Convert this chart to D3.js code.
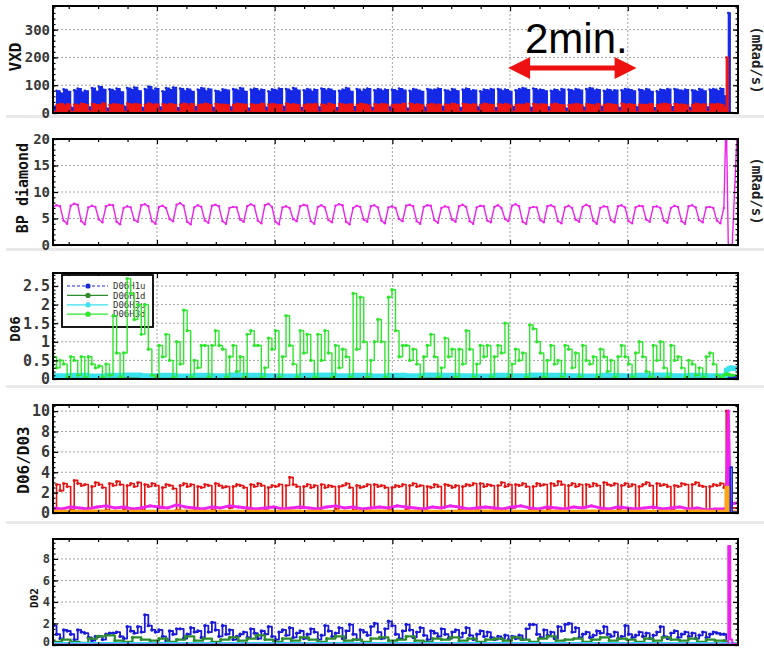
<!DOCTYPE html>
<html>
<head>
<meta charset="utf-8">
<script src="https://cdn.jsdelivr.net/npm/d3@7"></script>
<style>
  html, body { margin: 0; padding: 0; background: #fff; }
  svg { display: block; }
</style>
</head>
<body>
<svg id="chart" width="764" height="650"></svg>
<script>
// five stacked monitor panels, time runs left to right, spike at the very end

// time axis (seconds) - main run ends at T_END, then a short tail with the spike
const T_END = 684, T_MAX = 698.4;
const tailT = [684, 686.4, 688.5, 690.5, 692.5, 698.4];
const xMajor = [106, 226, 346, 466, 586];
const xMinor = [16, 46, 76, 136, 166, 196, 256, 286, 316, 376, 406, 436, 496, 526, 556, 616, 646, 676];
const arrowT = [464, 595];

// ---- VXD (mRad/s)
const vxdBlue = [
  25, 80, 72, 85, 78, 20, 82, 88, 75, 80,
  22, 90, 78, 95, 85, 18, 85, 80, 88, 76,
  24, 90, 84, 92, 80, 20, 86, 95, 82, 88,
  22, 78, 90, 84, 92, 19, 88, 80, 86, 78,
  23, 84, 90, 80, 86, 20, 80, 76, 85, 82,
  22, 86, 82, 90, 78, 18, 84, 88, 80, 84,
  21, 78, 85, 82, 88, 24, 86, 80, 90, 82,
  20, 82, 86, 78, 84, 22, 88, 82, 86, 80,
  19, 80, 84, 90, 78, 23, 86, 78, 84, 88,
  20, 82, 86, 80, 84, 22, 84, 80, 88, 82,
  18, 80, 86, 82, 78, 21, 86, 82, 84, 88,
  24, 82, 78, 86, 80, 20, 84, 88, 80, 82,
  22, 78, 84, 82, 86, 19, 86, 80, 84, 78,
  23, 82, 86, 90, 84, 20, 88, 82, 84, 80,
  22, 80, 84, 78, 86, 18, 84, 80, 86, 82,
  21, 86, 90, 82, 84, 24, 80, 84, 78, 82,
  20, 82, 86, 84, 80, 22, 84, 80, 86, 78,
  19, 78, 84, 82, 86, 23, 86, 82, 80, 84,
  20, 82, 78, 86, 80, 22, 84, 86, 80, 88
];
const vxdBlueTail = [60, 60, 360, 0, 0, 0];
const vxdRed = [
  6, 30, 33, 28, 32, 5, 31, 28, 34, 30,
  7, 33, 30, 29, 35, 4, 29, 32, 31, 28,
  6, 34, 30, 33, 31, 5, 30, 35, 29, 32,
  7, 32, 29, 33, 30, 5, 31, 34, 28, 33,
  6, 29, 31, 34, 30, 4, 33, 30, 31, 29,
  6, 30, 34, 32, 31, 5, 32, 29, 30, 34,
  7, 31, 33, 29, 30, 5, 34, 30, 32, 29,
  6, 29, 32, 31, 33, 4, 31, 28, 34, 30,
  6, 33, 31, 29, 32, 5, 30, 34, 31, 28,
  7, 32, 29, 33, 31, 5, 29, 31, 30, 34,
  6, 34, 30, 32, 29, 4, 30, 33, 28, 31,
  6, 31, 29, 34, 30, 5, 33, 31, 30, 32,
  7, 29, 34, 31, 30, 5, 32, 30, 33, 28,
  6, 30, 31, 29, 34, 4, 33, 28, 32, 31,
  6, 31, 34, 30, 29, 5, 29, 31, 33, 30,
  7, 32, 30, 28, 33, 5, 30, 33, 31, 29,
  6, 34, 29, 32, 30, 4, 31, 30, 29, 33,
  6, 29, 32, 34, 31, 5, 33, 30, 31, 28,
  7, 30, 34, 29, 32, 5, 32, 31, 33, 30
];
const vxdRedTail = [20, 200, 0, 0, 0, 0];

// ---- BP diamond (mRad/s)
const bpDiamond = [
  7.2, 7.5, 7.3, 4.6, 4.0, 7.4, 7.8, 7.6, 4.5, 3.9,
  7.1, 7.4, 7.2, 4.8, 4.3, 7.3, 7.6, 7.5, 4.4, 3.9,
  7.0, 7.3, 7.1, 4.7, 4.4, 7.5, 7.7, 7.3, 4.5, 4.0,
  7.2, 7.4, 7.0, 4.9, 4.5, 7.6, 7.9, 7.4, 4.4, 3.9,
  7.1, 7.5, 7.2, 4.6, 4.2, 7.4, 7.6, 7.3, 4.5, 4.0,
  7.0, 7.2, 7.1, 4.8, 4.4, 7.3, 7.7, 7.4, 4.6, 4.1,
  7.5, 7.8, 7.2, 4.4, 3.9, 7.1, 7.3, 7.0, 4.9, 4.5,
  7.3, 7.6, 7.4, 4.5, 4.0, 7.2, 7.5, 7.1, 4.7, 4.3,
  7.4, 7.7, 7.5, 4.4, 3.9, 7.0, 7.4, 7.2, 4.8, 4.4,
  7.3, 7.5, 7.1, 4.6, 4.1, 7.1, 7.3, 7.0, 4.9, 4.5,
  7.4, 7.6, 7.3, 4.5, 4.0, 7.2, 7.5, 7.4, 4.7, 4.2,
  7.0, 7.3, 7.1, 4.8, 4.4, 7.3, 7.6, 7.2, 4.5, 4.0,
  7.1, 7.4, 7.3, 4.6, 4.3, 7.2, 7.5, 7.0, 4.9, 4.5,
  7.4, 7.7, 7.3, 4.4, 4.0, 7.0, 7.2, 7.1, 4.7, 4.3,
  7.3, 7.5, 7.2, 4.5, 4.1, 7.1, 7.4, 7.0, 4.8, 4.4,
  7.2, 7.6, 7.3, 4.6, 4.0, 7.0, 7.3, 7.2, 4.7, 4.3,
  7.3, 7.5, 7.1, 4.5, 4.1, 7.1, 7.4, 7.3, 4.8, 4.4,
  7.2, 7.3, 7.0, 4.6, 4.2, 7.0, 7.4, 7.2, 4.5, 4.0,
  7.3, 7.5, 7.1, 4.7, 4.3, 7.1, 7.2, 7.0, 4.6, 4.1
];
const bpDiamondTail = [7.0, 25, 0, 0, 0, 25];

// ---- D06
const d06H3d = [
  0.6, 0.3, 0.5, 0.4, 0.05, 0.6, 0.5, 0.1, 0.6, 0.05,
  0.6, 0.4, 0.3, 0.35, 0.05, 0.4, 0.1, 1.7, 0.7, 0.05,
  0.7, 2.7, 2.3, 1.6, 2.0, 1.2, 2.0, 0.8, 0.1, 0.05,
  0.9, 0.6, 1.2, 0.5, 0.05, 1.0, 0.4, 1.85, 1.3, 0.05,
  0.5, 0.3, 0.9, 0.9, 0.05, 0.9, 1.3, 0.9, 0.8, 0.05,
  0.6, 0.9, 0.2, 0.6, 0.05, 1.2, 1.3, 0.9, 0.9, 0.05,
  0.3, 1.1, 0.8, 1.3, 0.05, 0.6, 1.7, 0.9, 0.4, 0.05,
  1.3, 0.7, 1.2, 0.5, 0.05, 1.2, 0.5, 1.3, 0.7, 0.05,
  0.9, 0.3, 0.8, 0.6, 0.05, 2.3, 0.8, 2.2, 1.0, 0.05,
  0.5, 1.0, 1.6, 1.0, 0.05, 2.2, 2.4, 1.3, 0.6, 0.9,
  0.9, 0.5, 0.8, 0.4, 0.05, 0.6, 0.9, 1.2, 0.6, 0.05,
  0.3, 1.1, 0.6, 0.8, 0.05, 0.8, 0.4, 1.3, 0.8, 0.05,
  0.4, 0.9, 0.6, 0.9, 0.05, 0.6, 0.9, 0.7, 1.5, 0.05,
  0.4, 0.8, 0.5, 0.7, 0.05, 1.45, 1.35, 1.0, 0.7, 0.05,
  0.5, 0.9, 0.4, 0.5, 0.05, 0.9, 0.8, 0.3, 0.7, 0.05,
  0.9, 0.5, 0.4, 0.6, 0.05, 0.8, 0.6, 0.2, 0.5, 0.05,
  0.6, 0.9, 0.6, 0.4, 0.05, 0.7, 1.0, 0.6, 0.2, 0.05,
  0.9, 0.5, 1.0, 0.3, 0.05, 0.9, 0.5, 0.6, 0.3, 0.05,
  0.5, 0.4, 0.1, 0.3, 0.05, 0.6, 0.7, 0.4, 0.1, 0.05
];
const d06H3dTail = [0.1, 0.15, 0.12, 0.1, 0.1, 0.1];
const d06H3u = [
  0.09, 0.10, 0.08, 0.10, 0.11, 0.09, 0.10, 0.08, 0.10, 0.09,
  0.11, 0.10, 0.09, 0.08, 0.10, 0.11, 0.09, 0.10, 0.08, 0.10,
  0.09, 0.11, 0.10, 0.09, 0.08, 0.10, 0.09, 0.11, 0.10, 0.09,
  0.08, 0.10, 0.09, 0.10, 0.11, 0.09, 0.10, 0.09
];
const d06H3uTail = [0.1, 0.25, 0.28, 0.3, 0.28, 0.28];
const d06H1u = [
  0.01, 0.01, 0.02, 0.01, 0.01, 0.02, 0.01, 0.01, 0.01, 0.02,
  0.01, 0.01, 0.02, 0.01, 0.01, 0.01, 0.02, 0.01, 0.01, 0.02,
  0.01, 0.01, 0.01, 0.02, 0.01, 0.01, 0.02, 0.01, 0.01, 0.01,
  0.02, 0.01, 0.01, 0.02, 0.01, 0.01, 0.01, 0.02
];
const d06H1uTail = [0.02, 0.05, 0.05, 0.05, 0.05, 0.05];
const d06H1d = [
  0.03, 0.02, 0.03, 0.04, 0.03, 0.02, 0.03, 0.03, 0.04, 0.03,
  0.02, 0.03, 0.03, 0.02, 0.04, 0.03, 0.03, 0.02, 0.03, 0.04,
  0.03, 0.02, 0.03, 0.03, 0.04, 0.03, 0.02, 0.03, 0.03, 0.04,
  0.03, 0.02, 0.03, 0.03, 0.02, 0.04, 0.03, 0.03
];
const d06H1dTail = [0.03, 0.1, 0.12, 0.1, 0.1, 0.1];

// ---- D06/D03
const ratioRed = [
  0.4, 2.8, 2.2, 2.9, 2.6, 0.3, 3.2, 2.9, 2.7, 2.8,
  0.5, 2.6, 3.0, 2.8, 2.5, 0.3, 2.9, 2.7, 3.1, 2.8,
  0.4, 2.7, 2.9, 2.6, 3.0, 0.3, 2.8, 2.6, 2.9, 2.7,
  0.5, 2.5, 2.8, 2.7, 2.4, 0.3, 2.7, 2.9, 2.6, 2.8,
  0.4, 2.6, 2.5, 2.8, 2.7, 0.3, 2.9, 2.7, 2.5, 2.6,
  0.5, 2.6, 2.8, 2.7, 2.5, 0.3, 2.8, 2.6, 2.9, 2.7,
  0.4, 2.5, 2.7, 2.6, 2.8, 0.3, 2.7, 3.5, 2.8, 2.6,
  0.5, 2.6, 2.8, 2.5, 2.7, 0.3, 2.8, 2.5, 2.7, 2.6,
  0.4, 2.6, 2.7, 2.9, 2.5, 0.3, 2.7, 2.5, 2.6, 2.8,
  0.5, 2.8, 2.6, 2.7, 2.5, 0.3, 2.5, 2.7, 2.6, 2.8,
  0.4, 2.7, 2.9, 2.6, 2.7, 0.3, 2.6, 2.5, 2.8, 2.6,
  0.5, 2.8, 2.7, 2.5, 2.7, 0.3, 2.6, 2.8, 2.7, 2.9,
  0.4, 2.9, 2.6, 2.8, 2.7, 0.3, 2.7, 3.0, 2.6, 2.8,
  0.5, 2.8, 2.7, 2.9, 2.6, 0.3, 2.6, 2.9, 2.7, 2.8,
  0.4, 2.9, 2.7, 3.1, 2.8, 0.3, 2.7, 2.9, 2.6, 2.8,
  0.5, 2.8, 2.6, 2.9, 2.7, 0.3, 3.0, 2.8, 2.7, 2.9,
  0.4, 2.7, 2.9, 2.6, 2.8, 0.3, 2.6, 2.8, 3.0, 2.7,
  0.5, 2.9, 2.7, 2.8, 2.6, 0.3, 2.7, 2.6, 2.9, 2.8,
  0.4, 2.8, 3.0, 2.7, 2.6, 0.3, 2.6, 2.8, 2.7, 2.9
];
const ratioRedTail = [2.5, 10, 0.3, 0.6, 0.5, 0.5];
const ratioMag = [
  0.5, 0.4, 0.6, 0.5, 0.4, 0.6, 0.7, 0.5, 0.6, 0.4,
  0.5, 0.7, 0.6, 0.5, 0.8, 0.6, 0.5, 0.4, 0.6, 0.5,
  0.7, 0.6, 0.5, 0.4, 0.5, 0.6, 0.4, 0.5, 0.6, 0.5,
  0.4, 0.6, 0.7, 0.5, 0.6, 0.4, 0.5, 0.6, 0.5, 0.7,
  0.6, 0.5, 0.4, 0.6, 0.5, 0.7, 0.6, 0.4, 0.5, 0.6,
  0.5, 0.4, 0.6, 0.7, 0.5, 0.4, 0.6, 0.5, 0.4, 0.6,
  0.5, 0.7, 0.5, 0.4, 0.6, 0.5, 0.4, 0.5, 0.6, 0.4,
  0.5, 0.6, 0.4, 0.5, 0.3, 0.4
];
const ratioMagTail = [0.4, 0.4, 10, 0.8, 0.9, 1.0];
const ratioOrange = [
  0.15, 0.15, 0.16, 0.15, 0.14, 0.15, 0.15, 0.16, 0.15, 0.15,
  0.14, 0.15, 0.15, 0.16, 0.15, 0.15, 0.14, 0.15, 0.16, 0.15,
  0.15, 0.15, 0.14, 0.15, 0.16, 0.15, 0.15, 0.15, 0.14, 0.15,
  0.16, 0.15, 0.15, 0.14, 0.15, 0.15, 0.16, 0.15
];
const ratioOrangeTail = [0.15, 2.5, 0.15, 0.15, 0.15, 0.15];
const ratioBlue = [
  0.02, 0.02, 0.02, 0.02, 0.02, 0.02, 0.02, 0.02, 0.02, 0.02,
  0.02, 0.02, 0.02, 0.02, 0.02, 0.02, 0.02, 0.02, 0.02, 0.02,
  0.02, 0.02, 0.02, 0.02, 0.02, 0.02, 0.02, 0.02, 0.02, 0.02,
  0.02, 0.02, 0.02, 0.02, 0.02, 0.02, 0.02, 0.02
];
const ratioBlueTail = [0.02, 0.02, 0.02, 4.5, 0.1, 0.1];

// ---- D02
const d02Blue = [
  1.8, 1.0, 0.6, 1.4, 1.3, 1.0, 0.5, 1.4, 1.2, 1.1,
  0.7, 0.4, 0.8, 0.8, 0.5, 1.0, 1.1, 1.1, 1.2, 0.8,
  0.6, 1.7, 1.3, 1.1, 1.7, 1.2, 2.8, 1.8, 1.4, 1.2,
  1.4, 0.8, 0.4, 1.3, 1.0, 1.5, 1.5, 0.6, 1.0, 1.6,
  1.2, 1.3, 0.7, 1.8, 1.2, 2.1, 1.4, 0.8, 1.8, 1.0,
  1.4, 0.5, 0.8, 1.0, 1.2, 0.7, 1.5, 1.1, 0.6, 1.3,
  1.0, 1.7, 0.8, 0.5, 1.2, 1.4, 0.9, 1.6, 0.7, 1.1,
  1.3, 0.6, 1.0, 1.5, 1.2, 0.5, 0.9, 1.8, 1.3, 0.8,
  1.1, 1.6, 0.6, 1.3, 1.9, 1.0, 0.5, 1.4, 1.2, 0.9,
  1.7, 2.0, 1.2, 0.6, 1.5, 2.2, 1.8, 1.0, 0.6, 1.3,
  1.9, 1.4, 0.7, 1.2, 1.6, 0.9, 0.5, 1.3, 1.1, 0.8,
  1.5, 1.0, 0.6, 1.2, 1.4, 0.7, 1.1, 1.6, 0.9, 0.5,
  1.0, 1.3, 0.8, 1.2, 0.7, 0.5, 0.8, 0.6, 0.9, 0.5,
  0.8, 0.6, 0.9, 0.5, 1.5, 1.9, 1.9, 1.0, 0.7, 1.4,
  0.9, 1.2, 0.6, 1.7, 1.3, 1.9, 2.0, 1.2, 1.6, 0.7,
  1.0, 1.2, 0.7, 0.9, 1.3, 1.1, 1.7, 1.0, 0.8, 1.2,
  0.6, 0.8, 1.8, 1.0, 0.7, 0.9, 1.2, 0.8, 1.1, 0.6,
  0.9, 1.2, 1.7, 0.8, 0.6, 1.1, 1.3, 0.7, 1.0, 1.2,
  0.8, 1.1, 0.6, 0.9, 1.2, 0.7, 1.0, 1.2, 1.1, 1.0
];
const d02BlueTail = [1.0, 0.3, 0.1, 0.05, 0.05, 0.05];
const d02Green = [
  0.3, 0.5, 0.3, 0.2, 0.6, 0.8, 0.9, 0.4, 0.3, 0.7,
  0.5, 0.4, 0.6, 0.3, 0.5, 0.8, 0.4, 0.6, 0.3, 0.5,
  0.7, 0.4, 0.6, 0.9, 0.5, 0.3, 0.6, 0.4, 0.7, 0.5,
  0.3, 0.6, 0.8, 0.4, 0.5, 0.3, 0.6, 0.7, 0.4, 0.5,
  0.8, 0.4, 0.3, 0.6, 0.5, 0.7, 0.4, 0.6, 0.3, 0.5,
  0.6, 0.4, 0.7, 0.5, 0.3, 0.6, 0.8, 0.4, 0.5, 0.6,
  0.3, 0.5, 0.7, 0.4, 0.6, 0.5, 0.3, 0.6, 0.4, 0.7,
  0.5, 0.4, 0.6, 0.3, 0.5, 0.4
];
const d02GreenTail = [0.4, 0.2, 0.1, 0.05, 0.05, 0.05];
const d02Cyan = [
  0.1, 0.1, 0.1, 0.1, 0.1, 0.1, 0.1, 0.1, 0.1, 0.1,
  0.1, 0.1, 0.1, 0.1, 0.1, 0.1, 0.1, 0.1, 0.1, 0.1,
  0.1, 0.1, 0.1, 0.1, 0.1, 0.1, 0.1, 0.1, 0.1, 0.1,
  0.1, 0.1, 0.1, 0.1, 0.1, 0.1, 0.1, 0.1
];
const d02CyanTail = [0.1, 0.1, 0.1, 0.1, 0.1, 0.1];
const d02Mag = [
  0.05, 0.05, 0.05, 0.05, 0.05, 0.05, 0.05, 0.05, 0.05, 0.05,
  0.05, 0.05, 0.05, 0.05, 0.05, 0.05, 0.05, 0.05, 0.05, 0.05,
  0.05, 0.05, 0.05, 0.05, 0.05, 0.05, 0.05, 0.05, 0.05, 0.05,
  0.05, 0.05, 0.05, 0.05, 0.05, 0.05, 0.05, 0.05
];
const d02MagTail = [0.05, 0.05, 9.2, 0.5, 0.1, 0.1];

const legendNames = ['D06H1u', 'D06H1d', 'D06H3u', 'D06H3d'];

// ---------------------------------------------------------------------------

// main samples are evenly spread over [0, T_END), tail samples sit at tailT
function series(main, tail) {
  const dt = T_END / main.length;
  return main.map((v, i) => [i * dt, v])
    .concat(tail.map((v, j) => [tailT[j], v]));
}

const svg = d3.select('#chart');
const W = 764;
const x = d3.scaleLinear().domain([0, T_MAX]).range([53, 738]);
const MONO = '"DejaVu Sans Mono", monospace';

const panels = [
  { top: 6, bottom: 113, yMax: 385, ticks: [0, 100, 200, 300], minor: 20,
    title: 'VXD', tSize: 16, tx: 15, ty: 57, tickSize: 14, unit: 60,
    series: [
      { kind: 'area', data: series(vxdBlue, vxdBlueTail), color: '#1428e6', dot: 1.3 },
      { kind: 'area', data: series(vxdRed, vxdRedTail), color: '#ec1414', dot: 1.2 }
    ] },
  { top: 139, bottom: 245, yMax: 20, ticks: [0, 5, 10, 15, 20], minor: 1,
    title: 'BP diamond', tSize: 15, tx: 23, ty: 188, tickSize: 14, unit: 191,
    series: [
      { data: series(bpDiamond, bpDiamondTail), color: '#ee22ee', width: 1.4, curve: d3.curveLinear, dot: 1.2 }
    ] },
  { top: 273, bottom: 379, yMax: 2.85, ticks: [0, 0.5, 1, 1.5, 2, 2.5], minor: 0.1,
    title: 'D06', tSize: 14, tx: 15, ty: 329, tickSize: 15, legend: true,
    series: [
      { data: series(d06H1u, d06H1uTail), color: '#1a2ad0', width: 2 },
      { data: series(d06H1d, d06H1dTail), color: '#2e8b2e', width: 2 },
      { data: series(d06H3u, d06H3uTail), color: '#3ae2ee', width: 5 },
      { data: series(d06H3d, d06H3dTail), color: '#2ee62e', width: 1.4, dot: 1.7 }
    ] },
  { top: 405, bottom: 513, yMax: 10.6, ticks: [0, 2, 4, 6, 8, 10], minor: 0.5,
    title: 'D06/D03', tSize: 16, tx: 23, ty: 460, tickSize: 15,
    series: [
      { data: series(ratioRed, ratioRedTail), color: '#e61414', width: 1.6, dot: 1.5 },
      { data: series(ratioMag, ratioMagTail), color: '#ee22ee', width: 3, curve: d3.curveLinear, dot: 1.5 },
      { data: series(ratioOrange, ratioOrangeTail), color: '#ffa514', width: 3.5 },
      { data: series(ratioBlue, ratioBlueTail), color: '#1a2ad0', width: 1.6 }
    ] },
  { top: 539, bottom: 645, yMax: 9.85, ticks: [0, 2, 4, 6, 8], minor: 0.5,
    title: 'D02', tSize: 11, tx: 34, ty: 598, tickSize: 12,
    series: [
      { data: series(d02Blue, d02BlueTail), color: '#1a1ad8', width: 1.8, dot: 1.7 },
      { data: series(d02Green, d02GreenTail), color: '#2e8b2e', width: 2.2, dot: 1.6 },
      { data: series(d02Cyan, d02CyanTail), color: '#22e0f0', width: 4 },
      { data: series(d02Mag, d02MagTail), color: '#ee22ee', width: 2 }
    ] }
];

svg.append('rect').attr('width', W).attr('height', 650).attr('fill', '#fff');

// light gray strips between the panel screenshots
[115, 248, 385, 521].forEach(yy => {
  svg.append('rect').attr('x', 6).attr('y', yy).attr('width', W - 6).attr('height', 3).attr('fill', '#e9e9e9');
});

panels.forEach((p, pi) => {
  const y = d3.scaleLinear().domain([0, p.yMax]).range([p.bottom, p.top]);
  const g = svg.append('g').attr('class', 'panel');
  const clipId = 'clip' + pi;
  svg.append('clipPath').attr('id', clipId)
    .append('rect').attr('x', x(0)).attr('y', p.top).attr('width', x(T_MAX) - x(0)).attr('height', p.bottom - p.top);

  // grid
  const grid = g.append('g').attr('stroke', '#9a9a9a').attr('stroke-width', 0.9).attr('stroke-dasharray', '2,2');
  grid.selectAll('line.h').data(p.ticks.filter(t => t > 0 && y(t) > p.top + 2)).enter().append('line')
    .attr('x1', x(0)).attr('x2', x(T_MAX)).attr('y1', d => y(d)).attr('y2', d => y(d));
  grid.selectAll('line.v').data(xMajor).enter().append('line')
    .attr('x1', d => x(d)).attr('x2', d => x(d)).attr('y1', p.top).attr('y2', p.bottom);

  // legend sits under the traces (the green trace crosses it)
  if (p.legend) {
    const lg = g.append('g');
    lg.append('rect').attr('x', 62).attr('y', 275).attr('width', 91).attr('height', 52)
      .attr('fill', '#fff').attr('stroke', '#000').attr('stroke-width', 1.8);
    legendNames.forEach((name, i) => {
      const s = p.series[i];
      const ly = 286 + i * 9.4;
      lg.append('line').attr('x1', 67).attr('x2', 108).attr('y1', ly).attr('y2', ly)
        .attr('stroke', s.color).attr('stroke-width', 1.2)
        .attr('stroke-dasharray', i === 0 ? '3,2' : null);
      lg.append('circle').attr('cx', 88).attr('cy', ly).attr('r', 2.6).attr('fill', s.color);
      lg.append('text').attr('x', 113).attr('y', ly).attr('dy', '0.35em')
        .attr('font-family', MONO).attr('font-size', 9).attr('fill', '#333').text(name);
    });
  }

  // traces
  const traces = g.append('g').attr('clip-path', `url(#${clipId})`);
  p.series.forEach(s => {
    if (s.kind === 'area') {
      const area = d3.area().curve(d3.curveStepAfter)
        .x(d => x(d[0])).y0(y(0)).y1(d => y(d[1]));
      traces.append('path').datum(s.data).attr('d', area).attr('fill', s.color);
      traces.append('path').datum(s.data)
        .attr('d', d3.line().curve(d3.curveStepAfter).x(d => x(d[0])).y(d => y(d[1])))
        .attr('fill', 'none').attr('stroke', s.color).attr('stroke-width', 1.2);
    } else {
      const line = d3.line().curve(s.curve || d3.curveStepAfter)
        .x(d => x(d[0])).y(d => y(d[1]));
      traces.append('path').datum(s.data).attr('d', line)
        .attr('fill', 'none').attr('stroke', s.color).attr('stroke-width', s.width)
        .attr('stroke-linejoin', 'round');
    }
    if (s.dot) {
      traces.append('g').selectAll('circle').data(s.data).enter().append('circle')
        .attr('cx', d => x(d[0])).attr('cy', d => y(d[1])).attr('r', s.dot).attr('fill', s.color);
    }
  });

  // axes: ticks point inward on all four sides
  const minorY = d3.range(0, p.yMax + 1e-9, p.minor);
  const left = g.append('g').attr('transform', `translate(${x(0)},0)`)
    .call(d3.axisLeft(y).tickValues(p.ticks).tickSizeInner(-5).tickSizeOuter(0).tickPadding(3)
      .tickFormat(d => String(d)));
  left.selectAll('text').attr('font-family', MONO).attr('font-weight', 'bold')
    .attr('font-size', p.tickSize).attr('fill', '#3a3a3a');
  // bottom label of the last panel sits at the picture edge: keep it inside
  if (pi === panels.length - 1) {
    left.selectAll('.tick').filter(d => d === 0).select('text').attr('dy', '0.05em');
  }
  g.append('g').attr('transform', `translate(${x(0)},0)`)
    .call(d3.axisLeft(y).tickValues(minorY).tickSize(-2.5).tickFormat(''));
  g.append('g').attr('transform', `translate(${x(T_MAX)},0)`)
    .call(d3.axisRight(y).tickValues(p.ticks).tickSize(-5).tickFormat(''));
  g.append('g').attr('transform', `translate(${x(T_MAX)},0)`)
    .call(d3.axisRight(y).tickValues(minorY).tickSize(-2.5).tickFormat(''));
  g.append('g').attr('transform', `translate(0,${p.top})`)
    .call(d3.axisTop(x).tickValues(xMajor).tickSize(-5).tickFormat(''));
  g.append('g').attr('transform', `translate(0,${p.top})`)
    .call(d3.axisTop(x).tickValues(xMinor).tickSize(-3).tickFormat(''));
  g.append('g').attr('transform', `translate(0,${p.bottom})`)
    .call(d3.axisBottom(x).tickValues(xMajor).tickSize(-5).tickFormat(''));
  g.append('g').attr('transform', `translate(0,${p.bottom})`)
    .call(d3.axisBottom(x).tickValues(xMinor).tickSize(-3).tickFormat(''));
  g.selectAll('.domain').remove();
  g.selectAll('.tick line').attr('stroke', '#000').attr('stroke-width', 1.2);

  // frame
  g.append('rect').attr('x', x(0)).attr('y', p.top).attr('width', x(T_MAX) - x(0)).attr('height', p.bottom - p.top)
    .attr('fill', 'none').attr('stroke', '#000').attr('stroke-width', 2);

  // titles
  g.append('text').attr('transform', `translate(${p.tx},${p.ty}) rotate(-90)`)
    .attr('text-anchor', 'middle').attr('dy', '0.35em')
    .attr('font-family', MONO).attr('font-weight', 'bold').attr('font-size', p.tSize)
    .attr('fill', '#111').text(p.title);
  if (p.unit) {
    g.append('text').attr('transform', `translate(757,${p.unit}) rotate(90)`)
      .attr('text-anchor', 'middle').attr('dy', '0.35em')
      .attr('font-family', MONO).attr('font-weight', 'bold').attr('font-size', 14)
      .attr('fill', '#222').text('(mRad/s)');
  }
});

// "2min." annotation with red double arrow
const ax0 = x(arrowT[0]), ax1 = x(arrowT[1]), ay = 68;
svg.append('text').attr('x', 525).attr('y', 53)
  .attr('font-family', '"Liberation Sans", Arial, sans-serif').attr('font-size', 42)
  .attr('fill', '#000').text('2min.');
svg.append('line').attr('x1', ax0 + 18).attr('x2', ax1 - 18).attr('y1', ay).attr('y2', ay)
  .attr('stroke', '#ee1111').attr('stroke-width', 5);
svg.append('path')
  .attr('d', `M${ax0},${ay} L${ax0 + 22},${ay - 11} L${ax0 + 22},${ay + 11} Z M${ax1},${ay} L${ax1 - 22},${ay - 11} L${ax1 - 22},${ay + 11} Z`)
  .attr('fill', '#ee1111');
</script>
</body>
</html>
